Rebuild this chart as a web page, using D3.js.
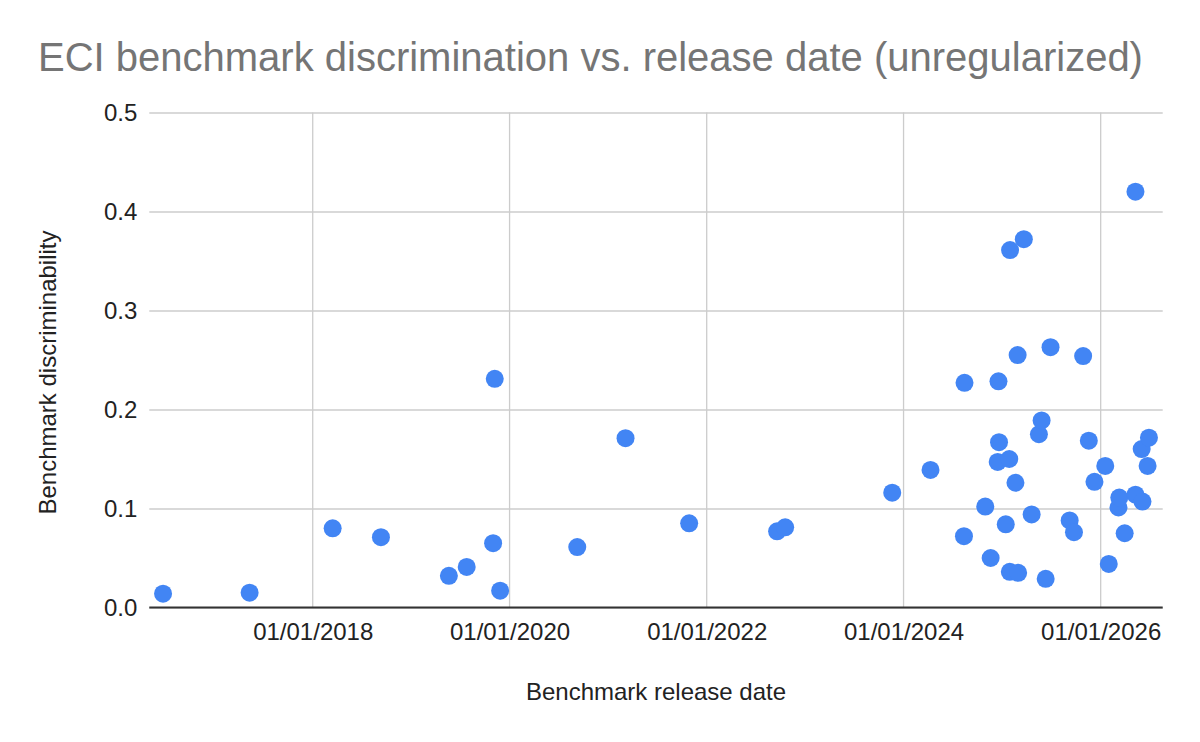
<!DOCTYPE html>
<html>
<head>
<meta charset="utf-8">
<script src="https://cdnjs.cloudflare.com/ajax/libs/d3/7.8.5/d3.min.js"></script>
<style>
  html, body { margin: 0; padding: 0; background: #fff; }
  svg { display: block; font-family: Arial, "Liberation Sans", sans-serif; }
</style>
</head>
<body>
<div id="chart"></div>
<script>
// release dates of each benchmark
var releaseDates = [
  "2016-06-25", "2017-05-12", "2018-03-16", "2018-09-11", "2019-05-21",
  "2019-07-26", "2019-11-01", "2019-11-07", "2019-11-27", "2020-09-08",
  "2021-03-06", "2021-10-28", "2022-09-19", "2022-10-19", "2023-11-20",
  "2024-04-10", "2024-08-12", "2024-08-14", "2024-10-30", "2024-11-19",
  "2024-12-15", "2024-12-18", "2024-12-20", "2025-01-14", "2025-01-27",
  "2025-01-29", "2025-01-30", "2025-02-19", "2025-02-27", "2025-03-01",
  "2025-03-22", "2025-04-20", "2025-05-17", "2025-05-27", "2025-06-11",
  "2025-06-29", "2025-09-08", "2025-09-24", "2025-10-28", "2025-11-18",
  "2025-12-09", "2026-01-18", "2026-01-31", "2026-03-08", "2026-03-11",
  "2026-03-31", "2026-05-10", "2026-05-10", "2026-06-02", "2026-06-05",
  "2026-06-24", "2026-06-29"
];

// discriminability, same order as releaseDates
var discriminability = [
  0.014, 0.015, 0.080, 0.071, 0.032,
  0.041, 0.065, 0.231, 0.017, 0.061,
  0.171, 0.085, 0.077, 0.081, 0.116,
  0.139, 0.072, 0.227, 0.102, 0.050,
  0.147, 0.2285, 0.167, 0.084, 0.150,
  0.036, 0.361, 0.126, 0.255, 0.035,
  0.372, 0.094, 0.175, 0.189, 0.029,
  0.263, 0.088, 0.076, 0.254, 0.1685,
  0.127, 0.143, 0.044, 0.101, 0.111,
  0.075, 0.114, 0.420, 0.160, 0.107,
  0.143, 0.1715
];

var xDomain = ["2016-05-05", "2026-08-19"];
var xTicks = ["2018-01-01", "2020-01-01", "2022-01-01", "2024-01-01", "2026-01-01"];
var yTicks = [0, 0.1, 0.2, 0.3, 0.4, 0.5];

var W = 1200, H = 742;
var margin = { top: 112.5, right: 37.3, bottom: 134.5, left: 149.3 };
var innerW = W - margin.left - margin.right;
var innerH = H - margin.top - margin.bottom;

var parse = d3.utcParse("%Y-%m-%d");
var points = releaseDates.map(function (d, i) {
  return { date: parse(d), value: discriminability[i] };
});

var svg = d3.select("#chart").append("svg")
  .attr("width", W).attr("height", H);

var x = d3.scaleUtc()
  .domain(xDomain.map(parse))
  .range([0, innerW]);

var y = d3.scaleLinear()
  .domain([0, 0.5])
  .range([innerH, 0]);

svg.append("text")
  .attr("x", 38).attr("y", 71)
  .attr("fill", "#757575")
  .style("font-size", "40px")
  .text("ECI benchmark discrimination vs. release date (unregularized)");

var g = svg.append("g")
  .attr("transform", "translate(" + margin.left + "," + margin.top + ")");

// horizontal gridlines + y labels
var yAxis = g.append("g")
  .call(d3.axisLeft(y).tickValues(yTicks).tickSize(-innerW).tickPadding(12)
    .tickFormat(d3.format(".1f")));
yAxis.select(".domain").remove();
yAxis.selectAll("line").attr("stroke", "#cccccc").attr("stroke-width", 1.3);
yAxis.selectAll("text").attr("fill", "#222").style("font-size", "24px");

// vertical gridlines
g.append("g").selectAll("line")
  .data(xTicks.map(parse))
  .join("line")
  .attr("x1", function (d) { return x(d); })
  .attr("x2", function (d) { return x(d); })
  .attr("y1", 0).attr("y2", innerH)
  .attr("stroke", "#cccccc").attr("stroke-width", 1.3);

// x labels
var xAxis = g.append("g")
  .attr("transform", "translate(0," + innerH + ")")
  .call(d3.axisBottom(x).tickValues(xTicks.map(parse)).tickSize(0).tickPadding(15.5)
    .tickFormat(d3.utcFormat("%m/%d/%Y")));
xAxis.select(".domain").remove();
xAxis.selectAll("text").attr("fill", "#222").style("font-size", "24px");

// baseline
g.append("line")
  .attr("x1", 0).attr("x2", innerW)
  .attr("y1", y(0)).attr("y2", y(0))
  .attr("stroke", "#333").attr("stroke-width", 2);

// dots
g.append("g").selectAll("circle")
  .data(points)
  .join("circle")
  .attr("cx", function (d) { return x(d.date); })
  .attr("cy", function (d) { return y(d.value); })
  .attr("r", 9)
  .attr("fill", "#4285f4");

// axis titles
svg.append("text")
  .attr("x", margin.left + innerW / 2).attr("y", 700)
  .attr("text-anchor", "middle")
  .attr("fill", "#222")
  .style("font-size", "24px")
  .text("Benchmark release date");

svg.append("text")
  .attr("transform", "translate(56,372.5) rotate(-90)")
  .attr("text-anchor", "middle")
  .attr("fill", "#222")
  .style("font-size", "24px")
  .text("Benchmark discriminability");
</script>
</body>
</html>
